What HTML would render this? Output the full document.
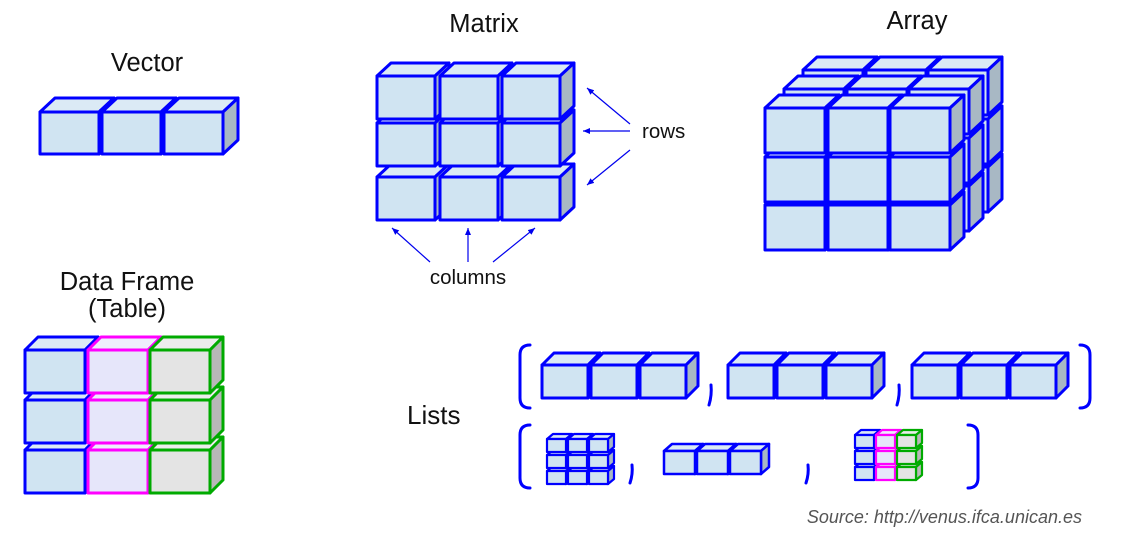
<!DOCTYPE html>
<html><head><meta charset="utf-8"><style>
html,body{margin:0;padding:0;background:#fff;width:1135px;height:556px;overflow:hidden}
svg{display:block}
text{font-family:"Liberation Sans",sans-serif;fill:#111}
</style></head><body>
<svg id="s" width="1135" height="556" xmlns="http://www.w3.org/2000/svg">
<defs><marker id="ah" markerWidth="8" markerHeight="8" refX="7" refY="4" orient="auto" markerUnits="userSpaceOnUse"><path d="M0,1 L7,4 L0,7 z" fill="#0000ee"/></marker></defs>
<g id="g"></g>
<text x="147" y="71" font-size="25.5" text-anchor="middle">Vector</text>
<text x="484" y="32" font-size="25.5" text-anchor="middle">Matrix</text>
<text x="917" y="29" font-size="25.5" text-anchor="middle">Array</text>
<text x="127" y="290" font-size="25.5" text-anchor="middle">Data Frame</text>
<text x="127" y="317" font-size="25.5" text-anchor="middle">(Table)</text>
<text x="642" y="138" font-size="20.5">rows</text>
<text x="468" y="284" font-size="20.5" text-anchor="middle">columns</text>
<text x="407" y="424" font-size="26">Lists</text>
<text x="1082" y="523" font-size="18" text-anchor="end" font-style="italic" style="fill:#555">Source: http://venus.ifca.unican.es</text>
<g stroke="#0000ee" stroke-width="1.2" fill="none">
<line x1="630" y1="124" x2="587" y2="88" marker-end="url(#ah)"/>
<line x1="630" y1="131" x2="583" y2="131" marker-end="url(#ah)"/>
<line x1="630" y1="150" x2="587" y2="185" marker-end="url(#ah)"/>
<line x1="430" y1="262" x2="392" y2="228" marker-end="url(#ah)"/>
<line x1="468" y1="262" x2="468" y2="228" marker-end="url(#ah)"/>
<line x1="493" y1="262" x2="535" y2="228" marker-end="url(#ah)"/>
</g>
<g stroke="#0000ff" stroke-width="3" fill="none" stroke-linecap="round">
<path d="M530,345 Q520,345 520,355 L520,398 Q520,408 530,408"/>
<path d="M1080,345 Q1090,345 1090,355 L1090,398 Q1090,408 1080,408"/>
<path d="M530,425 Q520,425 520,435 L520,478 Q520,488 530,488"/>
<path d="M968,425 Q978,425 978,435 L978,478 Q978,488 968,488"/>
<path d="M711,385 Q712,395 709,405"/>
<path d="M899,385 Q900,395 897,405"/>
<path d="M632,465 Q633,474 630,483"/>
<path d="M808,465 Q809,474 806,483"/>
</g>
</svg>
<script>
var g=document.getElementById('g'),h='';
var C={b:['#0000ff','#d0e4f2','#dbeaf5','#a8b8c4'],m:['#ff00ff','#e6e6fa','#eeeefc','#c8c8e0'],gr:['#00aa00','#e4e4e4','#ececec','#b8b8b8']};
function cube(x,y,w,hh,dx,dy,c,sw){c=C[c||'b'];sw=sw||3;
h+='<g stroke="'+c[0]+'" stroke-width="'+sw+'" stroke-linejoin="round">';
h+='<polygon points="'+x+','+y+' '+(x+dx)+','+(y-dy)+' '+(x+w+dx)+','+(y-dy)+' '+(x+w)+','+y+'" fill="'+c[2]+'"/>';
h+='<polygon points="'+(x+w)+','+y+' '+(x+w+dx)+','+(y-dy)+' '+(x+w+dx)+','+(y+hh-dy)+' '+(x+w)+','+(y+hh)+'" fill="'+c[3]+'"/>';
h+='<rect x="'+x+'" y="'+y+'" width="'+w+'" height="'+hh+'" fill="'+c[1]+'"/></g>';}
function grid(xs,ys,w,hh,dx,dy,cols,sw){for(var r=ys.length-1;r>=0;r--)for(var i=0;i<xs.length;i++)cube(xs[i],ys[r],w,hh,dx,dy,cols?cols[i]:'b',sw);}
grid([40,102,164],[112],59,42,15,14);
grid([377,440,502],[76,123,177],58,43,14,13);
for(var L=2;L>=0;L--){var ox=19*L,oy=-19*L;grid([765+ox,828+ox,890+ox],[108+oy,157+oy,205+oy],60,45,14,13);}
grid([25,88,150],[350,400,450],60,43,13,13,['b','m','gr']);
[542,728,912].forEach(function(s){grid([s,s+49,s+98],[365],46,33,12,12);});
grid([547,568,589],[439,455,471],19,13,6,5,null,2.2);
grid([664,697,730],[451],31,23,8,7,null,2.5);
grid([855,876,897],[435,451,467],19,13,6,5,['b','m','gr'],2.2);
g.innerHTML=h;
</script>
</body></html>
